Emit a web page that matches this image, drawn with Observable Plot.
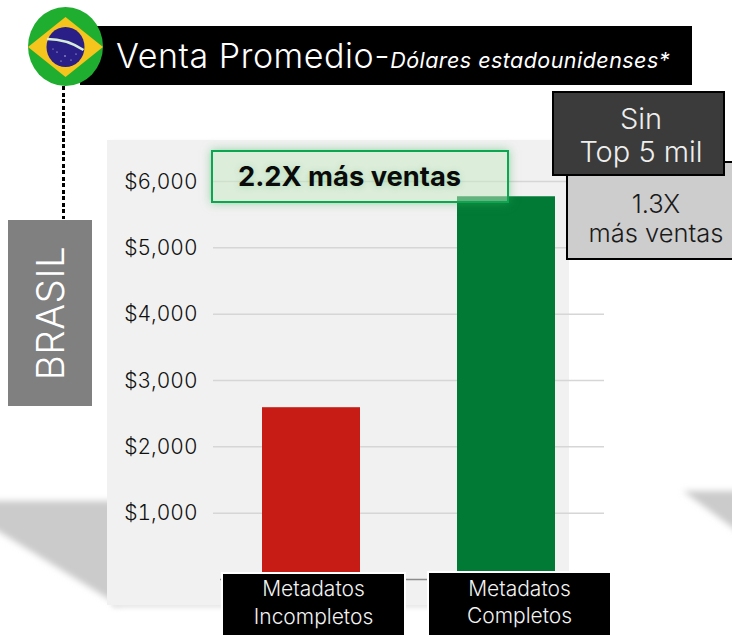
<!DOCTYPE html>
<html lang="es"><head><meta charset="utf-8">
<script src="https://cdn.jsdelivr.net/npm/d3@7"></script>
<script src="https://cdn.jsdelivr.net/npm/@observablehq/plot@0.6"></script>
<style>
html,body{margin:0;padding:0;background:#fff;}
#stage{position:relative;width:732px;height:635px;overflow:hidden;font-family:Inter,"Noto Sans",sans-serif;}
#stage>*{position:absolute;}
#bg,#chart{left:0;top:0;}
.box{box-sizing:border-box;text-align:center;}
#chart svg{display:block;background:transparent;}
</style></head><body>
<div id="stage">
<svg id="bg" width="732" height="635">
 <defs>
  <filter id="b1" x="-20%" y="-20%" width="140%" height="140%"><feGaussianBlur stdDeviation="3"/></filter>
  <filter id="b2" x="-5%" y="-5%" width="110%" height="110%"><feGaussianBlur stdDeviation="2"/></filter>
 </defs>
 <polygon points="-20,501 120,501 120,606 -20,520" fill="#cbcbcb" filter="url(#b1)"/>
 <polygon points="683,491 760,491 760,548" fill="#cbcbcb" filter="url(#b1)"/>
 <rect x="112" y="142" width="450" height="466" fill="#e8e8e8" filter="url(#b2)"/>
 <rect x="107" y="140" width="462" height="465" fill="#f1f1f1"/>
</svg>
<div id="chart"></div>
</div>
<script>
const categories = ["Metadatos Incompletos", "Metadatos Completos"];
const values = [2590, 5770];
const barColors = ["#c61c15", "#017a36"];
const tickValues = [1000, 2000, 3000, 4000, 5000, 6000];
const labelLines = [["Metadatos", "Incompletos"], ["Metadatos", "Completos"]];
const titleMain = "Venta Promedio-";
const titleSub = "Dólares estadounidenses*";
const country = "BRASIL";
const callout = "2.2X más ventas";
const sinLines = ["Sin", "Top 5 mil"];
const moreLines = ["1.3X", "más ventas"];

const rows = categories.map((c, i) => ({category: c, value: values[i], color: barColors[i]}));
const plot = Plot.plot({
  width: 732, height: 635,
  marginLeft: 213, marginRight: 128, marginTop: 181, marginBottom: 56,
  style: {background: "transparent", fontFamily: "Inter, sans-serif", overflow: "visible"},
  x: {domain: categories, paddingInner: 0.497, paddingOuter: 0.2487, axis: null},
  y: {domain: [0, 6000], axis: null},
  marks: [
    Plot.ruleY(tickValues, {stroke: "#d6d6d6", strokeWidth: 1.5, strokeOpacity: 1}),
    Plot.ruleY([0], {stroke: "#8c8c8c", strokeWidth: 1.5, insetLeft: 7}),
    Plot.barY(rows, {x: "category", y: "value", fill: "color"}),
    Plot.axisY({ticks: tickValues, tickSize: 0, tickPadding: 16, tickFormat: d => "$" + d3.format(",")(d),
      fontSize: 21, fontWeight: 300, fill: "#111", anchor: "left", label: null, dy: 0.5})
  ]
});
document.getElementById("chart").appendChild(plot);

const stage = document.getElementById("stage");
function box(css, html, cls) {
  const d = document.createElement("div");
  d.className = "box " + (cls || "");
  d.style.cssText = css;
  d.innerHTML = html || "";
  stage.appendChild(d);
  return d;
}
const flex = "display:flex;flex-direction:column;align-items:center;justify-content:center;";

// title bar
box("left:80px;top:26px;width:612px;height:59px;background:#000;color:#fff;text-align:left;white-space:nowrap;padding-left:36px;line-height:60px;font-size:34px;letter-spacing:.55px;font-weight:300;",
    titleMain + '<span style="font-style:italic;font-size:21.5px;letter-spacing:.45px;font-weight:400">' + titleSub + "</span>");

// dotted connector
box("left:61.5px;top:86px;width:3.5px;height:133px;background:repeating-linear-gradient(180deg,#000 0,#000 4px,transparent 4px,transparent 6.5px);");

// flag
stage.insertAdjacentHTML("beforeend", `<svg style="left:27px;top:6px" width="78" height="82" viewBox="0 0 78 82">
 <ellipse cx="38.5" cy="40.5" rx="37.5" ry="39.5" fill="#1fae2f"/>
 <clipPath id="fc"><ellipse cx="38.5" cy="40.5" rx="37.5" ry="39.5"/></clipPath>
 <polygon clip-path="url(#fc)" points="38.5,11 76,41 38.5,71 1,41" fill="#f6c51d"/>
 <ellipse cx="38.5" cy="41" rx="19" ry="20" fill="#2a1f87"/>
 <path d="M20 33 Q40 33 56.5 44" fill="none" stroke="#d6ecd8" stroke-width="2.5"/>
 <g fill="#e8e8f5"><circle cx="30" cy="46" r=".6"/><circle cx="38" cy="50" r=".7"/><circle cx="44" cy="54" r=".6"/><circle cx="49" cy="48" r=".6"/><circle cx="34" cy="55" r=".6"/><circle cx="26" cy="43" r=".5"/></g>
</svg>`);

// country tag
box(flex + "left:8px;top:220px;width:84px;height:186px;background:#808080;color:#fff;", '<span style="transform:rotate(-90deg);font-size:38.5px;white-space:nowrap;letter-spacing:.5px;font-weight:300">' + country + "</span>");

// callout
box("left:211px;top:150px;width:298px;height:53px;border:2px solid #0aa750;background:rgba(199,234,196,.5);box-shadow:0 0 9px rgba(60,180,90,.5);color:#0a0a0a;font-weight:700;font-size:27.3px;text-shadow:0 1px 6px rgba(60,180,90,.3);text-align:left;padding-left:25px;line-height:50px;white-space:nowrap;", callout);

// comparison boxes
box(flex + "left:566px;top:161px;width:180px;height:99px;background:#cdcdcd;border:2.5px solid #000;color:#1a1a1a;font-size:25.5px;font-weight:300;line-height:29px;padding-top:15px;white-space:nowrap;", moreLines.map(s => "<div>" + s + "</div>").join(""));
box(flex + "left:552px;top:91px;width:173px;height:85px;background:#3b3b3b;border:2.5px solid #000;color:#eee;font-size:29px;font-weight:300;line-height:33px;padding:2px 0 0 5px;white-space:nowrap;", sinLines.map(s => "<div>" + s + "</div>").join(""));

// category labels
const geom = ["left:221px;top:572px;width:185px;height:66px;", "left:427px;top:571px;width:185px;height:67px;"];
labelLines.forEach((lines, i) => {
  box(flex + geom[i] + "background:#000;border:2px solid #fff;color:#f2f2f2;font-size:21px;font-weight:300;line-height:27.5px;white-space:nowrap;padding-bottom:5px;", lines.map(s => "<div>" + s + "</div>").join(""));
});
</script>
</body></html>
